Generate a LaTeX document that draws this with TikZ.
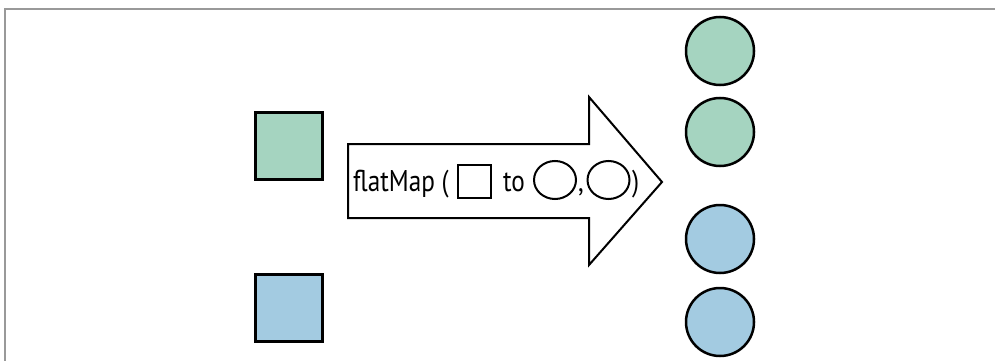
\documentclass[tikz,border=0pt]{standalone}
\usepackage{fontspec}
\usepackage{graphicx}
\setmainfont{PT Sans}
\usetikzlibrary{shapes.geometric}
\definecolor{mintgreen}{HTML}{A5D4C0}
\definecolor{skyblue}{HTML}{A3CBE1}
\newcommand{\narrowtext}[1]{\scalebox{0.84}[1]{#1}}

\begin{document}
\begin{tikzpicture}[x=1pt, y=-1pt,
  every node/.style={font=\fontsize{30}{32}\selectfont, inner sep=0pt},
  sq/.style={draw, line width=2.8pt, minimum size=67pt},
  dot/.style={draw, circle, line width=2.5pt, minimum size=68pt},
  smallring/.style={draw, ellipse, line width=2pt, minimum width=42pt, minimum height=38pt}]
\useasboundingbox (0,0) rectangle (995,361);
\draw[gray!80, line width=1.5pt] (5,361) -- (5,9) -- (995,9);

% input squares
\node (sqgreen) [sq, fill=mintgreen] at (289,146) {};
\node (sqblue) [sq, fill=skyblue] at (289,308) {};

% the big arrow
\draw[line width=2pt, fill=white] (348,144) -- (589,144) -- (589,97) -- (662,182)
  -- (589,265) -- (589,218) -- (348,218) -- cycle;

\node (fm) [anchor=base west] at (353,191) {\narrowtext{flatMap (}};
\node (insq) [draw, line width=2pt, minimum size=33pt] at (474.5,181.5) {};
\node (to) [anchor=base west] at (503,191) {\narrowtext{to}};
\node (incA) [smallring] at (555,180) {};
\node (comma) [anchor=base west] at (578,191) {\narrowtext{,}};
\node (incB) [smallring] at (608.5,180) {};
\node (close) [anchor=base west] at (632,191) {\narrowtext{)}};

% output circles
\node (outA) [dot, fill=mintgreen] at (720,51) {};
\node (outB) [dot, fill=mintgreen] at (720,132) {};
\node (outC) [dot, fill=skyblue] at (720,239) {};
\node (outD) [dot, fill=skyblue] at (720,322) {};
\end{tikzpicture}
\end{document}
